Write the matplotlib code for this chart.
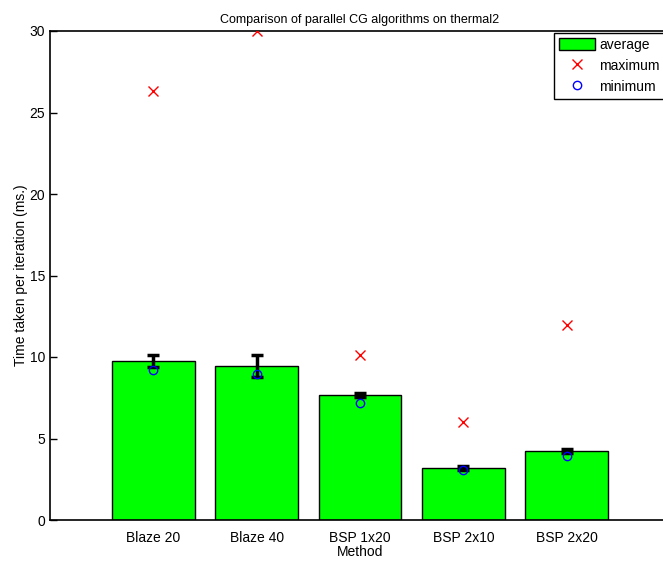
import numpy as np
import matplotlib
matplotlib.use('Agg')
import matplotlib.pyplot as plt

plt.rcParams['font.family'] = ['Liberation Sans', 'DejaVu Sans']

# timings per iteration (ms.)
methods = ['Blaze 20', 'Blaze 40', 'BSP 1x20', 'BSP 2x10', 'BSP 2x20']
average = [9.75, 9.45, 7.67, 3.19, 4.23]
maximum = [26.3, 30.0, 10.15, 6.0, 11.95]
minimum = [9.2, 8.95, 7.18, 3.05, 3.93]
spread = [0.35, 0.7, 0.15, 0.15, 0.15]

x = np.arange(1, len(methods) + 1)

fig = plt.figure(figsize=(6.63, 5.61), dpi=100)
ax = fig.add_axes([50 / 663, 41 / 561, 620 / 663, 489 / 561])

bars = ax.bar(x, average, width=0.8, color='#00ff00', edgecolor='black', linewidth=1.0,
              label='average', zorder=2)
ax.errorbar(x, average, yerr=spread, fmt='none', ecolor='black', elinewidth=2.5,
            capsize=4, capthick=2.5, zorder=3)
mx, = ax.plot(x, maximum, 'x', color='red', markersize=7, markeredgewidth=1.0,
              label='maximum', zorder=4)
mn, = ax.plot(x, minimum, 'o', markerfacecolor='none', markeredgecolor='blue',
              markersize=6, markeredgewidth=1.0, label='minimum', zorder=4)

ax.set_xlim(0, 6)
ax.set_ylim(0, 30)
ax.set_xticks(x)
ax.set_xticklabels(methods, fontsize=10)
ax.set_yticks(range(0, 31, 5))
ax.tick_params(axis='y', direction='in', length=5, labelsize=10, width=1)
ax.tick_params(axis='x', length=0, labelsize=10, pad=8)
for s in ax.spines.values():
    s.set_linewidth(1.2)

ax.set_title('Comparison of parallel CG algorithms on thermal2', fontsize=9, pad=6)
ax.set_xlabel('Method', fontsize=10, labelpad=0)
ax.set_ylabel('Time taken per iteration (ms.)', fontsize=10, labelpad=1)

leg = ax.legend([bars, mx, mn], ['average', 'maximum', 'minimum'],
                loc='upper left', fontsize=10, fancybox=False,
                framealpha=1, borderpad=0.35, handlelength=2.6, handleheight=1.0,
                handletextpad=0.3, labelspacing=0.5, borderaxespad=0)
leg.set_bbox_to_anchor((554 / 663, 528 / 561), transform=fig.transFigure)
leg.get_frame().set_edgecolor('black')
leg.get_frame().set_linewidth(1.0)

fig.savefig('out.png', dpi=100)
